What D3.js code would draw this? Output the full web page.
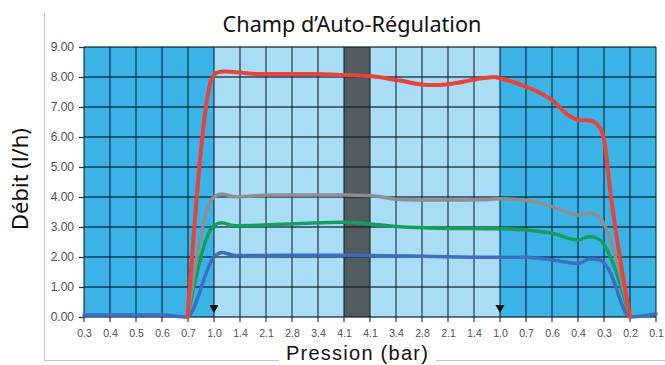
<!DOCTYPE html>
<html><head><meta charset="utf-8">
<script src="https://cdn.jsdelivr.net/npm/d3@7"></script>
<style>
html,body{margin:0;padding:0;background:#fff;}
svg{display:block;}
</style></head>
<body>
<svg id="c" width="665" height="365"></svg>
<script>
// ---- data ----
const pressureLabels = ["0.3","0.4","0.5","0.6","0.7","1.0","1.4","2.1","2.8","3.4","4.1","4.1","3.4","2.8","2.1","1.4","1.0","0.7","0.6","0.4","0.3","0.2","0.1"];
const yTicks = [0,1,2,3,4,5,6,7,8,9];
// zones by category position
const zoneDark1 = [0, 5];
const zoneLight = [5, 16];
const zoneGrey = [10, 11];
const zoneDark2 = [16, 22];
const arrowPositions = [5, 16];
// series: [position along pressure axis, flow l/h]
const redSeries = [[3.98,0],[4.92,7.96],[5.1,8.14],[5.4,8.18],[6.7,8.1],[8.9,8.1],[10,8.07],[11,8.03],[12.15,7.88],[13.3,7.73],[14.1,7.77],[15.05,7.92],[15.8,8.0],[16,7.96],[17,7.68],[18,7.23],[18.7,6.68],[19,6.57],[19.45,6.55],[19.85,6.3],[20,5.9],[20.27,4.0],[21,0]];
const greySeries = [[3.98,0],[4.95,3.96],[5.3,4.09],[5.8,4.01],[7.35,4.07],[10,4.07],[11,4.05],[12.15,3.92],[13.7,3.9],[15.6,3.92],[16,3.94],[17,3.88],[18,3.68],[19,3.4],[19.45,3.46],[19.85,3.3],[20.05,3.0],[21,0]];
const greenSeries = [[3.98,0],[5.0,3.05],[5.3,3.14],[5.8,3.04],[8.3,3.12],[10,3.16],[11,3.1],[12.15,3.01],[13.7,2.96],[16,2.94],[17,2.9],[18,2.79],[19,2.57],[19.45,2.68],[19.85,2.57],[20.05,2.34],[21,0]];
const blueSeries = [[0,0.07],[3,0.07],[3.95,0],[5.0,2.0],[5.3,2.15],[5.8,2.05],[10,2.06],[16,1.99],[17,1.99],[18,1.9],[19,1.79],[19.45,1.93],[19.85,1.9],[20.15,1.63],[21,0],[22,0.1]];

const title = "Champ d\u2019Auto-Régulation";
const yLabel = "Débit (l/h)";
const xLabel = "Pression (bar)";

// ---- layout ----
const svg = d3.select("#c");
const L = 84, R = 656, T = 47, B = 317;
const x = d3.scaleLinear().domain([0, pressureLabels.length - 1]).range([L, R]);
const y = d3.scaleLinear().domain([0, 9]).range([B, T]);

// frame
svg.append("line").attr("x1",44.5).attr("x2",44.5).attr("y1",13).attr("y2",360.5).attr("stroke","#c4c4c4").attr("stroke-width",1);
svg.append("line").attr("x1",44).attr("x2",279).attr("y1",360.5).attr("y2",360.5).attr("stroke","#c4c4c4");
svg.append("line").attr("x1",436).attr("x2",665).attr("y1",360.5).attr("y2",360.5).attr("stroke","#c4c4c4");

// zones
const zoneRect = (z, col) => svg.append("rect").attr("x", x(z[0])).attr("width", x(z[1]) - x(z[0]))
  .attr("y", y(9)).attr("height", y(0) - y(9)).attr("fill", col);
zoneRect(zoneDark1, "#3bb3e6");
zoneRect(zoneLight, "#a9dcf5");
zoneRect(zoneDark2, "#3bb3e6");
zoneRect(zoneGrey, "#525b60");

// grid
const grid = svg.append("g");
grid.selectAll(".v").data(d3.range(pressureLabels.length)).join("line")
  .attr("x1", d => x(d)).attr("x2", d => x(d)).attr("y1", y(9)).attr("y2", y(0) + 5)
  .attr("stroke", "#0d1f2b").attr("stroke-opacity", 0.8).attr("stroke-width", 1.3);
grid.selectAll(".h").data(yTicks).join("line")
  .attr("x1", L).attr("x2", R).attr("y1", d => y(d)).attr("y2", d => y(d))
  .attr("stroke", "#0d1f2b").attr("stroke-opacity", 0.8).attr("stroke-width", 1.3);

// axes
const yAxis = svg.append("g").attr("transform", `translate(${L},0)`)
  .call(d3.axisLeft(y).tickValues(yTicks).tickFormat(d3.format(".2f")).tickSize(5).tickPadding(5));
yAxis.select(".domain").remove();
yAxis.selectAll("line").attr("stroke", "#333").attr("stroke-width", 1.3);
yAxis.selectAll("text").attr("font-family", "Liberation Sans, Arial, sans-serif").attr("font-size", 12).attr("fill", "#505050");

const xAxis = svg.append("g").attr("transform", `translate(0,${B})`)
  .call(d3.axisBottom(x).tickValues(d3.range(pressureLabels.length)).tickFormat(i => pressureLabels[i]).tickSize(0).tickPadding(13));
xAxis.select(".domain").remove();
xAxis.selectAll("text").attr("font-family", "Liberation Sans, Arial, sans-serif").attr("font-size", 10.5).attr("fill", "#505050");

// series
const line = d3.line().x(d => x(d[0])).y(d => y(d[1])).curve(d3.curveMonotoneX);
const series = [
  {data: blueSeries, color: "#3d6ec2", w: 3.5},
  {data: greenSeries, color: "#14a05c", w: 3.5},
  {data: greySeries, color: "#8c8e90", w: 3.5},
  {data: redSeries, color: "#e8433a", w: 4}
];
svg.append("g").selectAll("path").data(series).join("path")
  .attr("d", d => line(d.data)).attr("fill", "none")
  .attr("stroke", d => d.color).attr("stroke-width", d => d.w)
  .attr("stroke-linejoin", "round").attr("stroke-linecap", "round");

// arrows
svg.append("g").selectAll("path").data(arrowPositions).join("path")
  .attr("d", d => `M${x(d)-4.5},${y(0)-12} L${x(d)+4.5},${y(0)-12} L${x(d)},${y(0)-4} Z`)
  .attr("fill", "#111");

// texts
const fontFam = "Noto Sans, DejaVu Sans, sans-serif";
function fit(sel, w) {
  const len = sel.node().getComputedTextLength();
  const fs = parseFloat(sel.attr("font-size"));
  sel.attr("font-size", fs * w / len);
}
const t = svg.append("text").attr("x", 352).attr("y", 32).attr("text-anchor", "middle")
  .attr("font-family", fontFam).attr("font-size", 19).attr("fill", "#111").text(title);
fit(t, 259);
const yl = svg.append("text").attr("transform", "translate(28,179) rotate(-90)").attr("text-anchor", "middle")
  .attr("font-family", fontFam).attr("font-size", 19).attr("fill", "#111").text(yLabel);
fit(yl, 102);
const xl = svg.append("text").attr("x", 357.5).attr("y", 360).attr("text-anchor", "middle")
  .attr("font-family", "Liberation Sans, Arial, sans-serif").attr("font-size", 20).attr("fill", "#111").text(xLabel);
// widen with letter spacing to match reference width, keeping height within the frame
const xlLen = xl.node().getComputedTextLength();
xl.attr("letter-spacing", Math.max(0, (142 - xlLen) / (xLabel.length - 1)));
</script>
</body></html>
